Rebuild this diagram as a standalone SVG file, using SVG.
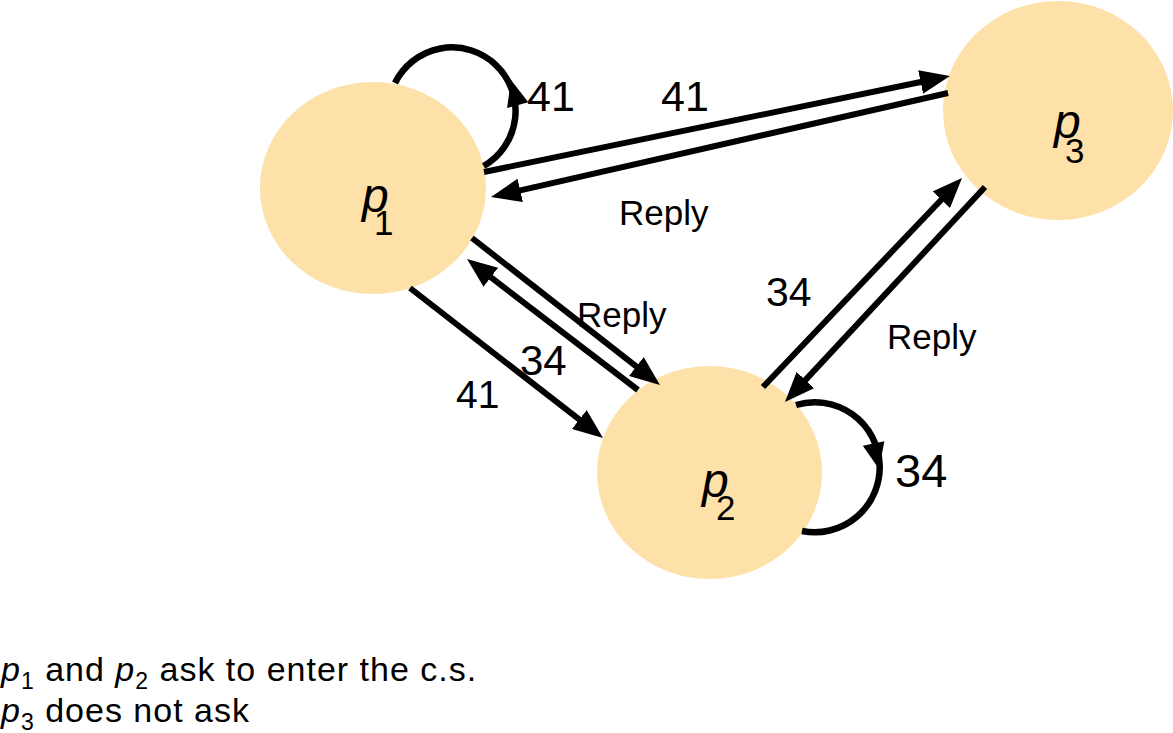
<svg xmlns="http://www.w3.org/2000/svg" width="1173" height="733" viewBox="0 0 1173 733">
<style>
.node{fill:#FDE1A9}
.edge{stroke:#000;stroke-width:6;fill:none;marker-end:url(#arr)}
.loop{stroke:#000;stroke-width:6.5;fill:none}
.lbl{font-family:"Liberation Sans",Arial,sans-serif;fill:#000}
.pn{font-family:"Liberation Sans",Arial,sans-serif;font-style:italic;font-size:48px;fill:#000}
.sub{font-style:normal;font-size:35px}
.note{font-family:"Liberation Sans",Arial,sans-serif;font-size:34px;letter-spacing:1px;fill:#000}
</style>
<defs>
<marker id="arr" markerUnits="userSpaceOnUse" markerWidth="30" markerHeight="24" refX="10" refY="12" orient="auto" viewBox="0 0 30 24"><path d="M0,0 L30,12 L0,24 z" fill="#000"/></marker>
<path id="ah" d="M-26,-11 L0,0 L-26,11 z" fill="#000"/>
</defs>
<g id="node-p1"><ellipse class="node" cx="373" cy="188" rx="113" ry="106"/><text class="pn" x="362" y="212">p<tspan class="sub" x="374" y="235">1</tspan></text></g>
<g id="node-p2"><ellipse class="node" cx="709.5" cy="472.5" rx="112.5" ry="106.5"/><text class="pn" x="702" y="497">p<tspan class="sub" x="716" y="520">2</tspan></text></g>
<g id="node-p3"><ellipse class="node" cx="1058" cy="110.5" rx="115" ry="109.5"/><text class="pn" x="1054" y="138">p<tspan class="sub" x="1065" y="163">3</tspan></text></g>
<g id="connectors">
<path class="loop" d="M395,83 A63.5,63.5 0 1 1 483.6,166"/>
<use href="#ah" transform="translate(511,80) rotate(-105)"/>
<path class="loop" d="M796,405 A65,65 0 1 1 802,531"/>
<use href="#ah" transform="translate(879,469) rotate(78)"/>
<path class="edge" d="M484,172 L930.4,80"/>
<path class="edge" d="M948,93 L510.5,192.6"/>
<path class="edge" d="M472,238 L644.2,372.7"/>
<path class="edge" d="M638,390 L482.9,271.2"/>
<path class="edge" d="M410,288 L587.2,425.7"/>
<path class="edge" d="M763,387 L948.2,192.5"/>
<path class="edge" d="M985,187 L798.6,387.4"/>
</g>
<g id="edge-labels" class="lbl">
<text x="527" y="111" font-size="43">41</text>
<text x="661" y="111" font-size="43">41</text>
<text x="619" y="225" font-size="35">Reply</text>
<text x="577" y="327" font-size="35">Reply</text>
<text x="766" y="306" font-size="41">34</text>
<text x="887" y="349" font-size="35">Reply</text>
<text x="520" y="375" font-size="42">34</text>
<text x="456" y="408" font-size="39">41</text>
<text x="895" y="487" font-size="47">34</text>
</g>
<g id="note">
<text class="note" x="1" y="680.5"><tspan font-style="italic">p</tspan><tspan font-size="23" dy="8">1</tspan><tspan dy="-8"> and </tspan><tspan font-style="italic">p</tspan><tspan font-size="23" dy="8">2</tspan><tspan dy="-8"> ask to enter the c.s.</tspan></text>
<text class="note" x="1" y="722"><tspan font-style="italic">p</tspan><tspan font-size="23" dy="8">3</tspan><tspan dy="-8"> does not ask</tspan></text>
</g>
</svg>
